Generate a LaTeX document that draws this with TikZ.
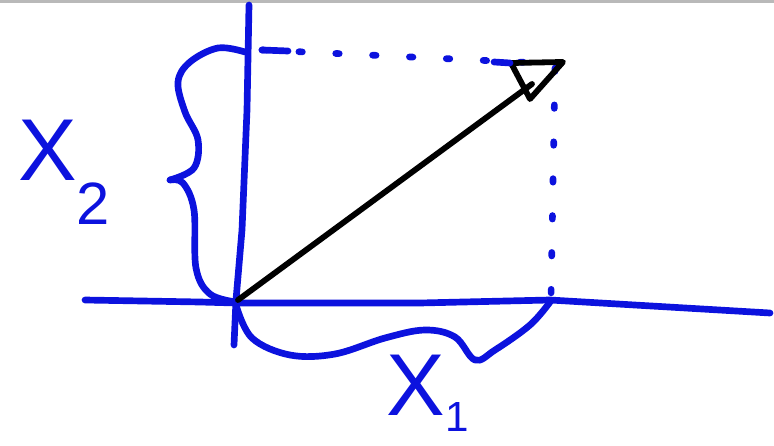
\documentclass[tikz,border=0pt]{standalone}
\usepackage{fontspec}
\setsansfont{Liberation Sans}
\usepackage{tikz}
\usetikzlibrary{calc}
\definecolor{penblue}{RGB}{12,18,222}

\begin{document}
\begin{tikzpicture}[
  x=0.02cm, y=-0.02cm,
  pen/.style={draw=penblue, line width=3.8pt, line cap=round, line join=round},
  ink/.style={draw=black, line width=3.3pt, line cap=round, line join=round},
  dots/.style={pen, dash pattern=on 2pt off 19pt},
  lbl/.style={text=penblue, font=\sffamily\fontsize{50}{50}\selectfont, inner sep=0pt},
]
  \useasboundingbox (0,0) rectangle (774,446);
  \fill[gray!55] (0,0) rectangle (774,3);

  % axes
  \coordinate (origin) at (238,300);
  \coordinate (tip)    at (563,62);
  \draw[pen] (249,5) -- (247,110) -- (242,230) -- (236,300) -- (234,345);
  \draw[pen] (85,300) -- (200,302) -- (236,303) -- (420,303) -- (550,300) -- (770,313);

  % projections
  \draw[dots] (262,50) -- (560,64);
  \draw[pen] (262,50) -- (288,51);
  \draw[dots] (555,68) -- (551,298);

  % braces
  \draw[pen] plot[smooth, tension=0.6] coordinates {(245,52) (218,48) (190,62) (178,82)
      (185,112) (198,140) (194,168) (170,180)};
  \draw[pen] plot[smooth, tension=0.6] coordinates {(170,180) (183,183) (194,210)
      (196,268) (210,294) (236,302)};
  \draw[pen] plot[smooth, tension=0.6] coordinates {(236,305) (252,338) (290,355)
      (335,354) (385,338) (425,330) (455,337) (475,360) (495,350) (530,325) (550,302)};

  % vector
  \draw[ink] (origin) -- (532,84);
  \draw[ink] (511,63) -- (tip) -- (530,99) -- cycle;
  \draw[pen] (494,62) -- (510,63);

  \node[lbl] (xtwo) at (64,172) {X\raisebox{-0.5em}{\fontsize{34}{34}\selectfont 2}};
  \node[lbl] (xone) at (428,393) {X\raisebox{-0.18em}{\fontsize{24}{24}\selectfont 1}};
\end{tikzpicture}
\end{document}
